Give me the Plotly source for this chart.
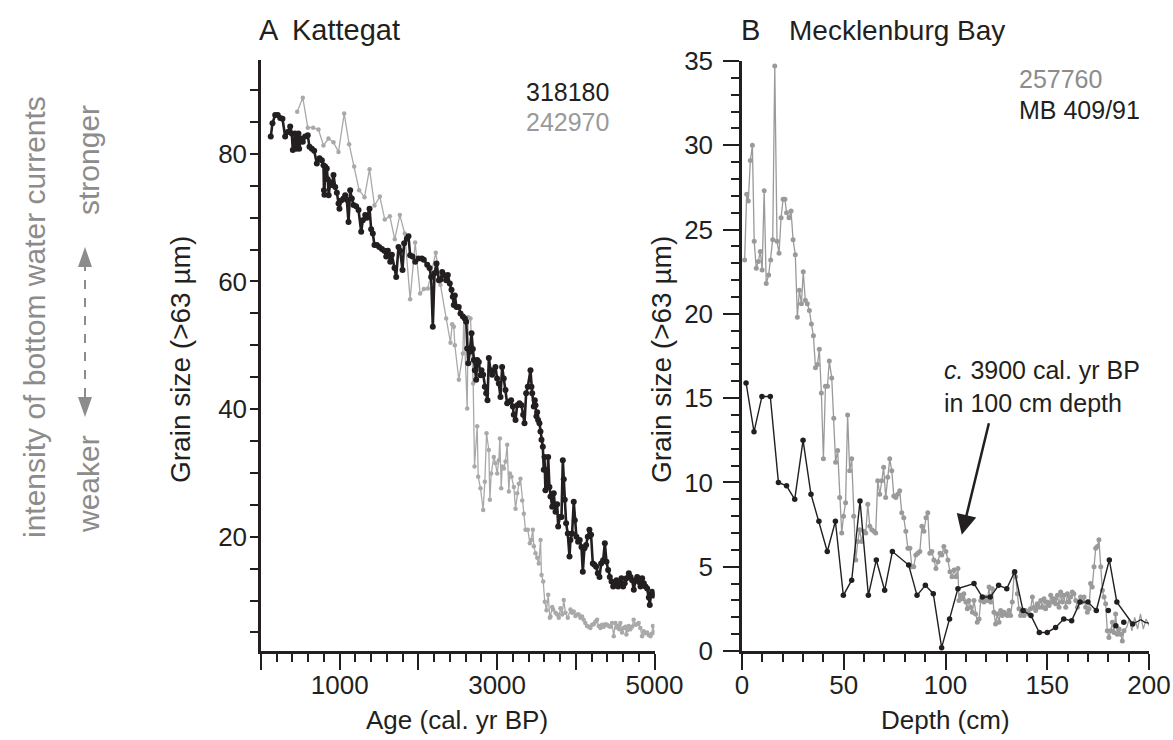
import plotly.graph_objects as go

W, H = 1173, 740

# ---------------- Panel A: Kattegat (age vs grain size) ----------------
age_318180 = [124, 146, 180, 213, 244, 273, 307, 340, 371, 391, 404, 434, 447, 476, 485, 510, 531, 561,
              594, 616, 646, 676, 709, 743, 773, 794, 800, 806, 815, 836, 848, 860, 880, 900, 921, 943,
              964, 985, 997, 1019, 1048, 1070, 1090, 1112, 1133, 1154, 1175, 1209, 1239, 1273, 1294,
              1324, 1345, 1379, 1400, 1421, 1442, 1472, 1502, 1536, 1566, 1591, 1612, 1642, 1663, 1696,
              1718, 1747, 1768, 1798, 1819, 1853, 1874, 1895, 1925, 1959, 2001, 2044, 2069, 2112, 2141,
              2162, 2183, 2205, 2230, 2260, 2282, 2302, 2324, 2353, 2374, 2399, 2421, 2437, 2450, 2463,
              2484, 2513, 2535, 2565, 2590, 2607, 2620, 2633, 2653, 2675, 2692, 2704, 2717, 2734, 2747,
              2768, 2789, 2802, 2823, 2844, 2861, 2878, 2895, 2916, 2937, 2958, 2979, 3000, 3022, 3043,
              3064, 3085, 3107, 3128, 3149, 3178, 3200, 3212, 3234, 3255, 3284, 3310, 3331, 3348, 3369,
              3390, 3424, 3437, 3446, 3466, 3479, 3488, 3500, 3509, 3521, 3538, 3551, 3564, 3581, 3593,
              3602, 3614, 3623, 3635, 3649, 3665, 3678, 3700, 3720, 3742, 3763, 3776, 3797, 3818, 3835,
              3847, 3860, 3877, 3898, 3920, 3932, 3953, 3974, 3987, 4008, 4029, 4050, 4072, 4089, 4110,
              4131, 4152, 4173, 4194, 4216, 4237, 4258, 4280, 4301, 4322, 4347, 4369, 4390, 4411, 4432,
              4454, 4475, 4496, 4517, 4538, 4559, 4580, 4601, 4622, 4644, 4674, 4695, 4716, 4737, 4758,
              4780, 4801, 4822, 4843, 4864, 4886, 4907, 4928, 4940, 4955, 4970, 4985, 5000]
gs_318180 = [82.7, 84.8, 86.1, 86.1, 85.6, 85.5, 82.7, 83.4, 84.3, 83.2, 80.6, 83.2, 80.8, 83.2, 80.8,
             82.4, 81.9, 82.7, 82.9, 81.1, 80.8, 80.5, 78.5, 79.3, 79.0, 78.2, 74.3, 73.6, 78.0, 77.7,
             76.0, 73.5, 75.5, 75.1, 76.7, 74.8, 73.9, 72.2, 71.4, 72.7, 73.0, 73.5, 72.8, 69.3, 74.3,
             73.0, 72.0, 71.8, 71.2, 67.8, 69.6, 70.4, 70.0, 71.4, 68.2, 67.5, 65.7, 65.7, 65.4, 65.1,
             64.8, 63.9, 64.8, 63.1, 64.2, 62.1, 60.7, 65.4, 64.8, 61.8, 66.0, 66.7, 67.1, 64.1, 63.9,
             63.1, 63.6, 63.6, 63.4, 62.6, 62.1, 60.7, 52.9, 61.3, 62.8, 60.2, 60.3, 61.5, 61.0, 60.2,
             61.0, 59.7, 58.7, 57.6, 56.3, 57.8, 56.0, 56.0, 55.0, 54.5, 54.2, 53.7, 49.5, 47.2, 49.0,
             51.9, 49.4, 47.7, 46.1, 44.6, 47.7, 47.4, 45.3, 46.1, 45.4, 43.5, 42.5, 41.4, 48.0, 46.1,
             45.4, 46.1, 46.6, 44.8, 44.0, 41.9, 46.6, 44.8, 43.0, 40.9, 41.1, 41.4, 40.4, 39.1, 38.3,
             40.6, 40.9, 40.6, 39.1, 37.8, 42.5, 43.5, 46.1, 43.5, 42.5, 40.4, 41.4, 40.6, 38.9, 39.5,
             38.3, 37.8, 36.5, 35.2, 34.1, 30.5, 32.5, 27.3, 30.5, 28.1, 32.5, 27.8, 26.3, 24.7, 26.8,
             23.9, 25.1, 21.6, 23.1, 23.1, 32.0, 29.0, 25.8, 22.1, 20.5, 16.9, 19.5, 20.5, 25.5, 22.6,
             20.0, 19.2, 19.5, 18.4, 14.5, 18.2, 18.7, 20.0, 21.1, 20.3, 15.8, 15.6, 15.3, 14.3, 13.7,
             15.8, 16.3, 19.0, 16.1, 14.8, 13.7, 13.0, 12.2, 12.4, 13.2, 12.2, 12.7, 13.5, 12.2, 12.7,
             13.5, 14.3, 13.7, 13.2, 11.7, 13.2, 13.7, 12.9, 12.2, 13.5, 12.7, 12.2, 11.9, 10.5, 9.3,
             11.0, 11.4, 10.8, 11.0]

age_242970 = [460, 531, 595, 662, 730, 794, 857, 921, 985, 1057, 1120, 1184, 1247, 1315, 1379, 1442,
              1510, 1573, 1637, 1700, 1764, 1827, 1895, 1959, 2022, 2069, 2120, 2221, 2280, 2353, 2408,
              2429, 2450, 2463, 2514, 2565, 2577, 2620, 2633, 2662, 2696, 2713, 2747, 2760, 2789, 2823,
              2844, 2866, 2895, 2908, 2925, 2958, 2980, 3001, 3022, 3035, 3052, 3065, 3086, 3107, 3128,
              3149, 3162, 3183, 3213, 3234, 3255, 3276, 3297, 3319, 3340, 3361, 3390, 3416, 3433, 3454,
              3467, 3488, 3510, 3530, 3552, 3564, 3586, 3606, 3628, 3649, 3670, 3678, 3700, 3712, 3742,
              3763, 3784, 3805, 3827, 3847, 3869, 3898, 3932, 3953, 3974, 3995, 4016, 4037, 4058, 4079,
              4100, 4121, 4142, 4164, 4185, 4207, 4227, 4249, 4270, 4291, 4312, 4333, 4355, 4375, 4397,
              4418, 4439, 4460, 4482, 4503, 4520, 4537, 4552, 4566, 4588, 4609, 4630, 4643, 4658, 4672,
              4693, 4715, 4735, 4757, 4778, 4799, 4820, 4842, 4863, 4884, 4905, 4927, 4948, 4965, 4980,
              4995]
gs_242970 = [86.6, 88.8, 84.1, 84.1, 83.8, 81.3, 82.4, 81.8, 80.3, 86.3, 81.5, 78.0, 74.3, 73.2, 77.6,
             71.9, 73.3, 69.7, 70.2, 66.6, 70.4, 67.5, 57.2, 66.1, 58.1, 58.8, 58.9, 64.5, 59.5, 54.2,
             50.4, 53.3, 52.9, 50.0, 44.6, 48.7, 54.2, 40.1, 54.4, 54.2, 44.0, 31.0, 37.3, 29.4, 27.6,
             24.2, 28.6, 36.2, 33.6, 25.8, 29.9, 32.5, 31.5, 29.9, 32.0, 35.4, 27.6, 31.0, 30.7, 31.8,
             34.4, 27.1, 29.9, 29.4, 27.8, 24.4, 26.8, 28.3, 29.1, 25.7, 23.6, 21.1, 21.1, 19.0, 19.5,
             21.1, 18.5, 17.4, 16.7, 15.8, 19.5, 14.0, 13.0, 9.8, 8.5, 10.9, 7.3, 7.5, 9.0, 8.6, 8.1,
             7.8, 7.3, 8.8, 7.8, 10.1, 8.1, 7.3, 8.6, 8.1, 8.3, 7.6, 7.8, 7.8, 7.3, 7.5, 7.0, 6.5, 6.0,
             5.9, 5.7, 6.2, 6.3, 6.7, 7.0, 6.0, 5.7, 6.2, 5.9, 6.3, 6.2, 6.0, 5.9, 6.5, 4.4, 6.5, 5.8,
             6.0, 5.5, 6.5, 5.0, 5.7, 5.9, 4.7, 5.4, 6.0, 5.5, 5.9, 7.0, 6.2, 6.3, 6.5, 5.7, 4.4, 5.2,
             4.9, 5.0, 4.6, 4.4, 4.8, 6.0, 5.0]

# ---------------- Panel B: Mecklenburg Bay (depth vs grain size) ----------------
depth_257760 = [1.3, 2.3, 3.1, 4.1, 5.1, 6.0, 7.0, 8.0, 9.0, 9.9, 10.9, 11.9, 13.1, 14.1, 15.1, 16.1,
                17.2, 18.2, 19.2, 20.2, 21.1, 21.9, 23.1, 24.1, 25.1, 26.2, 27.2, 28.2, 29.2, 30.1, 31.1,
                32.1, 33.1, 34.1, 35.1, 36.1, 37.1, 38.0, 39.0, 40.0, 41.0, 42.0, 42.9, 44.1, 45.1, 46.0,
                47.0, 48.0, 49.0, 49.9, 50.9, 51.9, 52.9, 53.9, 54.9, 55.9, 56.9, 57.8, 58.8, 59.8, 60.8,
                61.8, 62.8, 63.8, 64.8, 65.7, 66.7, 67.7, 68.7, 69.6, 70.6, 71.6, 72.6, 73.6, 74.6, 75.6,
                76.5, 77.5, 78.5, 79.5, 80.5, 81.5, 82.5, 83.5, 84.4, 85.4, 86.4, 87.4, 88.4, 89.4, 90.4,
                91.3, 92.3, 93.3, 94.3, 95.3, 96.3, 97.3, 98.2, 99.2, 100.2, 101.2, 102.2, 103.2, 104.2,
                105.2, 106.1, 106.6, 107.5, 108.3, 109.0, 110.0, 110.7, 111.5, 112.4, 113.2, 114.0, 114.8,
                115.6, 116.5, 117.3, 118.0, 118.9, 119.7, 120.6, 121.4, 122.2, 123.0, 123.8, 124.6, 125.5,
                126.3, 127.1, 127.9, 128.7, 129.5, 130.4, 131.2, 132.0, 132.8, 133.7, 134.5, 135.3, 136.1,
                136.9, 137.8, 138.6, 139.4, 140.2, 141.0, 141.8, 142.7, 143.5, 144.3, 145.1, 145.9, 146.8,
                147.6, 148.4, 149.2, 150.0, 150.9, 151.7, 152.5, 153.3, 154.1, 155.0, 155.8, 156.6, 157.4,
                158.2, 159.1, 159.9, 160.7, 161.5, 162.3, 163.1, 164.0, 164.8, 165.6, 166.4, 167.2, 168.1,
                168.9, 169.7, 170.5, 171.3, 172.1, 173.0, 173.8, 174.6, 175.4, 176.3, 177.1, 177.9, 178.7,
                179.5, 180.3, 181.2, 182.0, 182.8, 183.6, 184.4, 185.3, 186.1, 186.9, 187.7]
gs_257760 = [23.2, 27.1, 26.7, 29.1, 30.0, 24.3, 22.7, 23.1, 23.7, 22.6, 27.3, 21.8, 22.3, 23.2, 24.4,
             34.7, 24.3, 23.6, 25.7, 26.8, 26.8, 26.0, 25.7, 26.1, 24.4, 23.5, 19.8, 21.4, 20.6, 22.5,
             20.8, 20.6, 20.2, 19.4, 18.7, 16.8, 17.0, 17.9, 15.3, 11.4, 15.7, 15.7, 17.2, 16.2, 13.8,
             11.2, 11.9, 9.1, 7.0, 8.0, 8.8, 14.0, 10.7, 11.4, 8.0, 5.4, 6.5, 7.2, 6.5, 7.1, 7.0, 8.7,
             7.4, 7.2, 7.1, 7.0, 10.1, 9.3, 10.1, 10.9, 9.1, 10.3, 11.4, 10.7, 9.2, 9.1, 9.3, 9.5, 8.2,
             7.9, 7.1, 6.1, 6.1, 5.0, 5.0, 5.7, 5.8, 5.9, 7.4, 7.1, 7.9, 8.2, 5.8, 5.9, 5.4, 4.9, 5.3,
             5.8, 5.7, 6.2, 5.9, 5.4, 4.7, 4.4, 4.8, 4.4, 4.9, 3.0, 3.3, 3.1, 3.4, 2.9, 2.5, 3.0, 2.6,
             2.3, 3.0, 2.2, 1.7, 1.9, 3.0, 3.0, 2.9, 3.2, 3.0, 3.8, 2.9, 3.7, 2.3, 1.6, 2.2, 1.7, 2.4,
             2.1, 2.3, 2.2, 2.1, 2.4, 2.1, 2.9, 4.6, 4.4, 3.4, 2.5, 2.1, 2.3, 2.1, 2.4, 2.3, 2.2, 2.5,
             3.2, 2.6, 2.4, 2.8, 2.6, 3.0, 2.6, 3.1, 2.5, 2.9, 2.7, 3.3, 2.9, 3.1, 2.8, 3.3, 2.6, 3.5,
             2.9, 3.3, 2.6, 3.4, 2.9, 3.2, 3.5, 3.4, 3.0, 2.6, 2.9, 3.2, 2.9, 3.2, 2.6, 2.3, 2.5, 4.0,
             3.8, 5.0, 6.1, 6.2, 6.6, 5.0, 3.6, 3.2, 2.8, 1.2, 0.8, 1.2, 1.7, 1.1, 2.2, 1.0, 1.3, 1.0,
             0.6, 1.2]
depth_257760_tail = [187.7, 189.0, 190.3, 191.6, 193.0, 194.4, 195.8, 197.2, 198.6, 200.0]
gs_257760_tail = [1.2, 1.4, 1.9, 1.2, 2.0, 1.3, 2.2, 1.3, 1.9, 1.5]

depth_mb409 = [2.0, 5.9, 9.8, 13.9, 17.9, 21.9, 25.9, 30.0, 33.9, 37.8, 41.9, 45.9, 49.8, 53.9, 58.0,
               62.1, 66.0, 70.1, 73.9, 81.9, 86.0, 90.1, 94.0, 98.1, 102.0, 106.1, 114.0, 118.1, 122.0,
               126.1, 130.1, 134.0, 138.1, 142.0, 146.1, 150.0, 154.1, 158.1, 162.0, 166.1, 170.0, 174.1,
               180.5, 184.2, 192.0]
gs_mb409 = [15.9, 13.0, 15.1, 15.1, 10.0, 9.8, 9.0, 12.5, 9.3, 7.7, 5.9, 7.7, 3.3, 4.2, 8.9, 3.3, 5.4,
            3.6, 5.9, 5.1, 3.3, 3.9, 3.4, 0.2, 1.9, 3.7, 4.0, 3.2, 3.2, 3.9, 3.7, 4.7, 2.4, 2.1, 1.1, 1.1,
            1.4, 1.9, 1.8, 2.9, 2.9, 2.4, 5.4, 2.9, 1.6]
depth_mb409_extra = [180.0, 183.7, 187.6]
gs_mb409_extra = [2.4, 1.5, 1.7]
depth_mb409_tail = [192.0, 194.0, 196.0, 198.0, 200.0]
gs_mb409_tail = [1.6, 1.75, 1.85, 1.7, 1.65]

# ---------------- styling ----------------
FONT = "Liberation Sans, Arial, Helvetica, sans-serif"
INK = "#231f20"
GREY_A = "#a9a9a9"
GREY_B = "#9a9a9a"
GREY_TXT = "#8c8c8c"


def px(x):
    return x / W


def py(y):
    return 1 - y / H


fig = go.Figure()

fig.add_trace(go.Scatter(x=age_242970, y=gs_242970, mode="lines+markers", xaxis="x", yaxis="y",
                         line=dict(color=GREY_A, width=1.3), marker=dict(color=GREY_A, size=4.5),
                         showlegend=False))
fig.add_trace(go.Scatter(x=age_318180, y=gs_318180, mode="lines+markers", xaxis="x", yaxis="y",
                         line=dict(color=INK, width=2.6), marker=dict(color=INK, size=6),
                         showlegend=False))

fig.add_trace(go.Scatter(x=depth_257760, y=gs_257760, mode="lines+markers", xaxis="x2", yaxis="y2",
                         line=dict(color=GREY_B, width=1.3), marker=dict(color=GREY_B, size=5),
                         showlegend=False))
fig.add_trace(go.Scatter(x=depth_257760_tail, y=gs_257760_tail, mode="lines", xaxis="x2", yaxis="y2",
                         line=dict(color=GREY_B, width=1.2), showlegend=False))
fig.add_trace(go.Scatter(x=depth_mb409, y=gs_mb409, mode="lines+markers", xaxis="x2", yaxis="y2",
                         line=dict(color=INK, width=1.4), marker=dict(color=INK, size=5.5),
                         showlegend=False))
fig.add_trace(go.Scatter(x=depth_mb409_extra, y=gs_mb409_extra, mode="markers", xaxis="x2", yaxis="y2",
                         marker=dict(color=INK, size=5.5), showlegend=False))
fig.add_trace(go.Scatter(x=depth_mb409_tail, y=gs_mb409_tail, mode="lines", xaxis="x2", yaxis="y2",
                         line=dict(color=INK, width=1.2), showlegend=False))

axis_common = dict(showgrid=False, zeroline=False, showline=True, linecolor=INK, linewidth=2.5,
                   ticks="outside", tickcolor=INK, tickwidth=2.2, automargin=False,
                   tickfont=dict(family=FONT, size=26, color=INK))

fig.update_layout(
    width=W, height=H, autosize=False,
    margin=dict(l=0, r=0, t=0, b=0, pad=0, autoexpand=False),
    paper_bgcolor="white", plot_bgcolor="white", showlegend=False,
    xaxis=dict(domain=[px(261), px(654.5)], range=[0, 5000], anchor="y",
               tickmode="array", tickvals=[0, 1000, 2000, 3000, 4000, 5000],
               ticktext=["", "1000", "", "3000", "", "5000"], ticklen=16, ticklabelstandoff=-7,
               minor=dict(dtick=200, tick0=0, ticklen=8, tickwidth=2.2, tickcolor=INK, ticks="outside"),
               **axis_common),
    yaxis=dict(domain=[py(651), py(60)], range=[2.1, 94.7], anchor="x",
               tickmode="array", tickvals=[20, 40, 60, 80], ticklen=8, ticklabelstandoff=-2,
               minor=dict(dtick=5, tick0=0, ticklen=8, tickwidth=2.2, tickcolor=INK, ticks="outside"),
               **axis_common),
    xaxis2=dict(domain=[px(742), px(1149)], range=[0, 200], anchor="y2",
                tickmode="array", tickvals=[0, 50, 100, 150, 200], ticklen=16, ticklabelstandoff=-7,
                minor=dict(dtick=10, tick0=0, ticklen=8, tickwidth=2.2, tickcolor=INK, ticks="outside"),
                **axis_common),
    yaxis2=dict(domain=[py(651), py(61)], range=[0, 35], anchor="x2",
                tickmode="array", tickvals=[0, 5, 10, 15, 20, 25, 30, 35], ticklen=16, ticklabelstandoff=5,
                minor=dict(dtick=1, tick0=0, ticklen=8, tickwidth=2.2, tickcolor=INK, ticks="outside"),
                **axis_common),
)

ann = []


def txt(x, y, text, size=26, color=INK, xanchor="left", yanchor="middle", angle=0):
    ann.append(dict(x=px(x), y=py(y), xref="paper", yref="paper", text=text, showarrow=False,
                    xanchor=xanchor, yanchor=yanchor, textangle=angle, align="left",
                    font=dict(family=FONT, size=size, color=color)))


# panel titles
txt(257, 30, "A", size=29)
txt(290, 30, "Kattegat", size=29)
txt(739, 30, "B", size=29)
txt(787, 30, "Mecklenburg Bay", size=28)

# series labels
txt(524, 92, "318180", size=25)
txt(524, 122, "242970", size=25, color="#9a9a9a")
txt(1017, 79, "257760", size=25, color="#8c8c8c")
txt(1017, 110, "MB 409/91", size=25)

# axis titles
txt(457, 720, "Age (cal. yr BP)", size=26, xanchor="center")
txt(945, 720, "Depth (cm)", size=26, xanchor="center")
txt(180, 360, "Grain size (>63 µm)", size=28, xanchor="center", angle=-90)
txt(661, 360, "Grain size (>63 µm)", size=28, xanchor="center", angle=-90)

# annotation in panel B
txt(942, 386, "<i>c.</i> 3900 cal. yr BP<br>in 100 cm depth", size=25, yanchor="middle")

# left side explanation
txt(35, 317, "intensity of bottom water currents", size=30, color=GREY_TXT, xanchor="center", angle=-90)
txt(88, 160, "stronger", size=30, color=GREY_TXT, xanchor="center", angle=-90)
txt(88, 484, "weaker", size=30, color=GREY_TXT, xanchor="center", angle=-90)

# arrow pointing at 100 cm
ann.append(dict(x=108, y=6.9, xref="x2", yref="y2", ax=121.5, ay=13.6, axref="x2", ayref="y2",
                showarrow=True, arrowhead=2, arrowsize=1.6, arrowwidth=2.5, arrowcolor=INK, text=""))

fig.update_layout(annotations=ann)

# dashed double-headed arrow (left)
ax_px = 85
fig.add_shape(type="line", xref="paper", yref="paper", x0=px(ax_px), x1=px(ax_px), y0=py(262), y1=py(402),
              line=dict(color=GREY_TXT, width=2, dash="dash"))
fig.add_shape(type="path", xref="paper", yref="paper",
              path=f"M {px(ax_px)},{py(247)} L {px(ax_px - 7)},{py(267)} L {px(ax_px + 7)},{py(267)} Z",
              fillcolor=GREY_TXT, line=dict(width=0))
fig.add_shape(type="path", xref="paper", yref="paper",
              path=f"M {px(ax_px)},{py(417)} L {px(ax_px - 7)},{py(397)} L {px(ax_px + 7)},{py(397)} Z",
              fillcolor=GREY_TXT, line=dict(width=0))

fig.write_html("out.html")
